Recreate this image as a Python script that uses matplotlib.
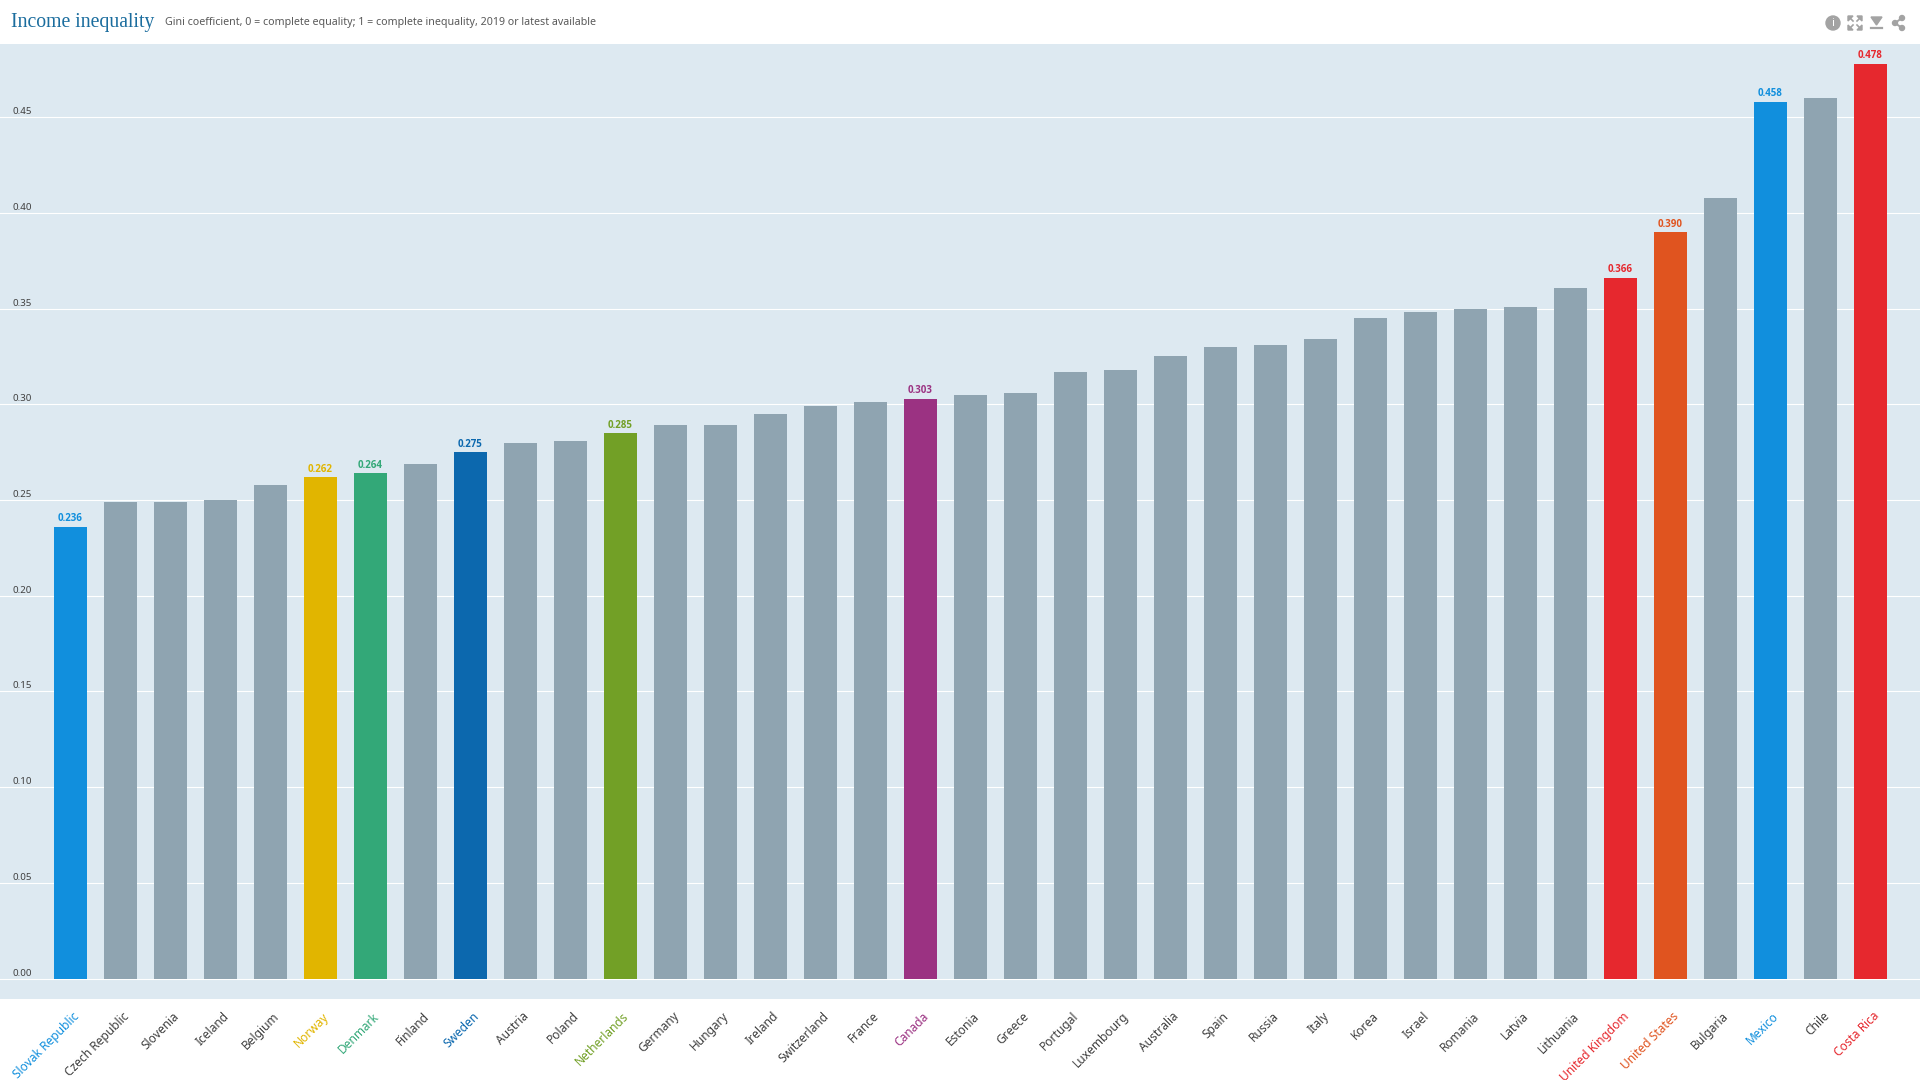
#!/usr/bin/env python3
"""Income inequality bar chart: Gini coefficient by country."""
import matplotlib
matplotlib.use("Agg")
import matplotlib.pyplot as plt
from matplotlib.patches import Circle, Polygon
from matplotlib.transforms import ScaledTranslation

plt.rcParams["font.family"] = ["Noto Sans", "DejaVu Sans"]

countries = [
    "Slovak Republic", "Czech Republic", "Slovenia", "Iceland", "Belgium", "Norway",
    "Denmark", "Finland", "Sweden", "Austria", "Poland", "Netherlands", "Germany",
    "Hungary", "Ireland", "Switzerland", "France", "Canada", "Estonia", "Greece",
    "Portugal", "Luxembourg", "Australia", "Spain", "Russia", "Italy", "Korea",
    "Israel", "Romania", "Latvia", "Lithuania", "United Kingdom", "United States",
    "Bulgaria", "Mexico", "Chile", "Costa Rica",
]
gini = [
    0.236, 0.249, 0.249, 0.250, 0.258, 0.262, 0.264, 0.269, 0.275, 0.280, 0.281,
    0.285, 0.289, 0.289, 0.295, 0.299, 0.301, 0.303, 0.305, 0.306, 0.317, 0.318,
    0.325, 0.330, 0.331, 0.334, 0.345, 0.348, 0.350, 0.351, 0.361, 0.366, 0.390,
    0.408, 0.458, 0.460, 0.478,
]
highlights = {
    "Slovak Republic": "#118fdd",
    "Norway": "#e1b500",
    "Denmark": "#33a878",
    "Sweden": "#0c68ae",
    "Netherlands": "#72a026",
    "Canada": "#9b3282",
    "United Kingdom": "#e6282e",
    "United States": "#e0541f",
    "Mexico": "#118fdd",
    "Costa Rica": "#e6282e",
}
y_ticks = [0.00, 0.05, 0.10, 0.15, 0.20, 0.25, 0.30, 0.35, 0.40, 0.45]

GREY_BAR = "#8fa4b1"
PANEL = "#dde9f1"
LABEL = "#404040"
ICON = "#a3a3a3"
W, H = 1920, 1080
PX_PER_UNIT = 1914.0  # panel pixels per unit of Gini
BASE_Y = 978.5

fig = plt.figure(figsize=(19.2, 10.8), dpi=100, facecolor="white")
# panel runs edge to edge, y 44..999 in image pixels
ax = fig.add_axes([0, 1 - 999 / H, 1, (999 - 44) / H], facecolor=PANEL)
ax.set_xlim(-70.5 / 50, (W - 70.5) / 50)
ax.set_ylim(-(999 - BASE_Y) / PX_PER_UNIT, (BASE_Y - 44) / PX_PER_UNIT)
for s in ax.spines.values():
    s.set_visible(False)

colors = [highlights.get(c, GREY_BAR) for c in countries]
positions = list(range(len(countries)))
ax.bar(positions, gini, width=0.66, color=colors, zorder=3)

for x, v, c in zip(positions, gini, countries):
    if c in highlights:
        ax.annotate(f"{v:.3f}", (x, v), xytext=(0, 1.8), textcoords="offset points",
                    ha="center", va="bottom", fontsize=7, fontweight="bold",
                    family=["Open Sans", "Liberation Sans"],
                    color=highlights[c], zorder=4)

ax.set_yticks(y_ticks)
ax.set_yticklabels([f"{t:.2f}" for t in y_ticks])
ax.grid(axis="y", color="white", linewidth=0.8, zorder=1)
ax.set_axisbelow(True)
ax.tick_params(axis="y", length=0, pad=-8.8, labelsize=7, labelcolor=LABEL)
up = ScaledTranslation(0, 1 / 100, fig.dpi_scale_trans)
for lab in ax.get_yticklabels():
    lab.set_ha("left")
    lab.set_va("bottom")
    lab.set_transform(lab.get_transform() + up)

ax.set_xticks(positions)
ax.set_xticklabels(countries, rotation=45, ha="right", va="center",
                   rotation_mode="anchor", fontsize=8.6)
ax.tick_params(axis="x", length=0, pad=11)
shift = ScaledTranslation(6.5 / 100, 0, fig.dpi_scale_trans)
for lab, c in zip(ax.get_xticklabels(), countries):
    lab.set_color(highlights.get(c, LABEL))
    lab.set_transform(lab.get_transform() + shift)

fig.text(11 / W, 1 - 23 / H, "Income inequality", family="Liberation Serif", fontsize=14.2,
         color="#1b6d9e", ha="left", va="center")
fig.text(165 / W, 1 - 23 / H,
         "Gini coefficient, 0 = complete equality; 1 = complete inequality, 2019 or latest available",
         fontsize=7.7, color="#595959", ha="left", va="center")

# toolbar icons, in image pixel coordinates
ov = fig.add_axes([0, 0, 1, 1], facecolor="none")
ov.set_xlim(0, W)
ov.set_ylim(H, 0)
ov.axis("off")
ov.add_patch(Circle((1833, 23), 7, color=ICON))
ov.text(1833, 23, "i", color="white", fontsize=8, fontweight="bold", ha="center", va="center")
for sx, sy in [(-1, -1), (1, -1), (-1, 1), (1, 1)]:
    cx, cy = 1855, 23
    tip = (cx + sx * 7, cy + sy * 7)
    ov.add_patch(Polygon([tip, (tip[0] - sx * 5, tip[1]), (tip[0], tip[1] - sy * 5)], color=ICON))
    ov.plot([cx + sx * 2, cx + sx * 5], [cy + sy * 2, cy + sy * 5], color=ICON, lw=1.2)
ov.add_patch(Polygon([(1871, 17), (1882, 17), (1876.5, 25)], color=ICON))
ov.plot([1871, 1882], [27.5, 27.5], color=ICON, lw=1.6)
share = [(1902, 18), (1895, 23), (1902, 28)]
ov.plot(*zip(*share), color=ICON, lw=1.4)
for p in share:
    ov.add_patch(Circle(p, 2.5, color=ICON))

fig.savefig("out.png", dpi=100)
